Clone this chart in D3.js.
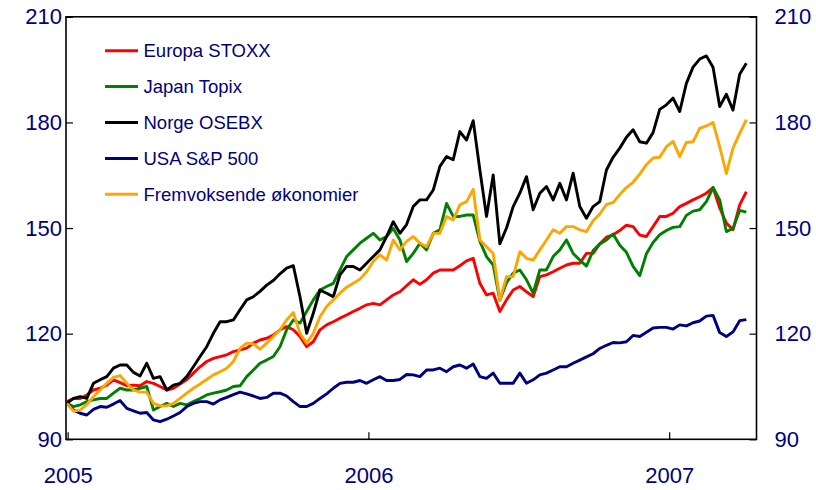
<!DOCTYPE html>
<html>
<head>
<meta charset="utf-8">
<script src="https://cdn.jsdelivr.net/npm/d3@7"></script>
<style>
  body { margin: 0; background: #fff; }
  svg { display: block; font-family: "Liberation Sans", Arial, sans-serif; }
</style>
</head>
<body>
<svg id="chart" width="816" height="490"></svg>
<script>
var firstDate = new Date(2004, 11, 31);
var stepDays = 8.085;

var europa = [
  100.7, 101.6, 101.6, 102.6, 104.0, 104.5, 105.4, 106.9, 106.1, 105.2, 105.4, 105.2, 106.4, 105.9, 105.0, 104.0, 104.5, 105.7, 106.9, 108.8, 110.6, 112.1, 113.0, 113.5, 114.0, 114.9, 115.4,
  115.9, 117.3, 118.2, 118.7, 119.6, 121.1, 122.0, 121.1, 119.2, 116.3, 117.7, 121.1, 122.5, 123.4, 124.4, 125.3, 126.3, 127.2, 128.2, 128.6, 128.2, 129.6, 131.0, 131.9, 133.6,
  135.3, 134.0, 135.3, 137.2, 138.1, 138.1, 138.1, 139.3, 140.7, 141.4, 134.3, 131.0, 131.5, 126.3, 129.6, 132.4, 133.4, 131.9, 130.5, 136.2, 136.7, 137.6, 138.6, 139.5, 140.0, 140.0,
  142.8, 142.8, 145.5, 147.4, 148.1, 149.3, 150.8, 150.4, 148.0, 147.6, 150.4, 153.3, 153.3, 154.2, 156.1, 157.0, 158.0, 158.9, 159.9, 161.5, 155.7, 151.4, 149.5, 156.6, 160.3
];
var japan = [
  100.2, 99.3, 99.8, 100.7, 101.2, 101.6, 101.6, 103.1, 104.5, 104.0, 104.0, 104.5, 105.0, 98.3, 99.3, 100.2, 99.3, 100.2, 99.8, 100.7, 101.6, 102.6, 103.1, 103.5, 104.0, 105.0, 105.2,
  107.8, 109.7, 111.6, 112.5, 113.5, 116.3, 121.1, 123.9, 123.0, 126.3, 129.6, 132.4, 133.4, 134.3, 138.1, 141.9, 143.8, 145.7, 147.1, 148.5, 146.6, 147.6, 149.9, 146.6, 140.5,
  142.8, 145.7, 143.8, 148.5, 149.5, 157.0, 153.3, 153.3, 153.7, 153.7, 146.2, 141.9, 139.5, 129.5, 134.5, 137.2, 138.1, 135.3, 131.5, 138.1, 138.1, 141.9, 143.8, 146.6, 142.8, 140.9,
  139.2, 143.6, 145.5, 146.6, 148.3, 145.1, 143.1, 139.1, 136.5, 142.7, 145.9, 148.1, 149.3, 150.2, 150.4, 153.6, 154.8, 155.2, 157.5, 161.5, 158.0, 149.0, 149.9, 155.0, 154.5
];
var norge = [
  100.2, 101.6, 102.1, 101.6, 105.9, 106.9, 107.8, 110.2, 111.1, 111.1, 109.0, 108.0, 111.6, 107.3, 107.8, 104.0, 105.4, 105.9, 107.8, 110.6, 113.5, 116.3, 120.1, 123.4, 123.4, 123.9, 126.8,
  129.6, 130.5, 132.0, 133.8, 135.1, 137.0, 138.6, 139.3, 130.5, 120.1, 125.8, 132.4, 131.5, 130.5, 136.7, 139.1, 139.1, 138.1, 140.0, 141.9, 143.8, 147.6, 151.8, 148.5, 151.0,
  156.1, 158.0, 158.0, 160.8, 167.5, 170.3, 169.4, 177.4, 175.0, 180.5, 166.5, 153.3, 165.1, 145.5, 150.0, 156.1, 159.9, 164.6, 155.2, 159.9, 161.8, 158.0, 162.7, 158.0, 165.6, 156.1,
  152.8, 156.1, 157.5, 166.5, 170.1, 172.7, 175.8, 177.9, 174.5, 174.1, 177.1, 183.7, 185.0, 186.9, 183.1, 191.1, 195.7, 198.0, 198.9, 195.7, 184.5, 188.0, 183.5, 193.7, 196.8
];
var usa = [
  100.2, 98.3, 97.4, 96.9, 98.5, 99.3, 99.1, 100.0, 101.0, 98.8, 98.1, 97.4, 97.6, 95.5, 95.0, 95.7, 96.6, 97.6, 99.3, 100.2, 100.7, 100.7, 100.0, 101.2, 101.9, 102.7, 103.4,
  102.9, 102.3, 101.6, 101.9, 103.1, 103.1, 102.3, 100.7, 99.3, 99.3, 100.2, 101.6, 102.9, 104.5, 105.9, 106.2, 106.2, 106.7, 105.9, 106.9, 107.8, 106.7, 106.7, 107.0, 108.4,
  108.3, 107.8, 109.7, 109.7, 110.2, 109.2, 110.6, 111.1, 110.2, 111.4, 107.8, 107.3, 108.8, 105.9, 105.9, 105.9, 108.8, 105.9, 106.9, 108.3, 108.8, 109.7, 110.6, 110.6, 111.6, 112.5,
  113.4, 114.3, 115.8, 116.7, 117.5, 117.4, 117.7, 119.5, 119.2, 120.4, 121.6, 121.8, 121.8, 121.3, 122.5, 122.2, 123.1, 123.6, 125.0, 125.2, 120.3, 119.2, 120.5, 123.7, 124.0
];
var fremvoksende = [
  100.2, 98.0, 98.3, 99.9, 102.1, 104.0, 105.9, 107.6, 108.1, 105.9, 104.0, 103.4, 103.4, 100.2, 99.5, 99.5, 100.2, 101.6, 103.1, 104.5, 105.7, 107.0, 108.3, 109.2, 110.2, 112.1, 115.8,
  117.3, 117.1, 115.6, 117.3, 119.2, 121.1, 123.9, 126.0, 120.1, 117.3, 120.1, 124.8, 127.7, 129.6, 131.5, 133.2, 134.3, 135.5, 137.6, 140.5, 142.4, 140.9, 146.6, 143.8, 146.2,
  147.6, 145.7, 144.7, 148.5, 148.5, 153.3, 152.3, 156.6, 157.5, 161.0, 146.6, 144.7, 142.8, 129.5, 136.2, 136.2, 143.3, 141.4, 140.9, 143.8, 146.6, 149.5, 148.5, 150.4, 150.4, 149.5,
  149.0, 152.1, 154.0, 156.7, 157.2, 159.5, 161.5, 163.0, 165.3, 168.0, 169.9, 170.1, 173.1, 174.6, 170.3, 174.3, 174.5, 178.3, 179.0, 180.0, 173.1, 165.5, 172.7, 176.9, 180.8
];

var seriesNames = ["Europa STOXX", "Japan Topix", "Norge OSEBX", "USA S&P 500", "Fremvoksende økonomier"];
var seriesColors = ["#ff0000", "#008000", "#000000", "#000080", "#ffa500"];
var seriesValues = [europa, japan, norge, usa, fremvoksende];

var yTicks = [90, 120, 150, 180, 210];
var xTickYears = [2005, 2006, 2007];

var svg = d3.select("#chart");
var textColor = "#000080";

// plot box
var plotL = 66, plotR = 756.5, plotT = 16.8, plotB = 439.3;

var x = d3.scaleTime()
  .domain([new Date(2004, 11, 30), new Date(2007, 3, 17)])
  .range([plotL, plotR]);
var y = d3.scaleLinear()
  .domain([90, 210])
  .range([plotB, plotT]);

var dates = europa.map(function (d, i) {
  return new Date(+firstDate + i * stepDays * 864e5);
});

// axes, ticks pointing into the plot
function styleAxis(g) {
  g.select(".domain").remove();
  g.selectAll(".tick line").attr("stroke", "#000").attr("stroke-width", 1.2);
  g.selectAll(".tick text")
    .attr("fill", textColor)
    .style("font-size", "22px")
    .style("font-family", '"Liberation Sans", Arial, sans-serif');
}

svg.append("g")
  .attr("transform", "translate(" + plotL + ",0)")
  .call(d3.axisLeft(y).tickValues(yTicks).tickSizeInner(-7).tickSizeOuter(0).tickPadding(4))
  .call(styleAxis);

svg.append("g")
  .attr("transform", "translate(" + plotR + ",0)")
  .call(d3.axisRight(y).tickValues(yTicks).tickSizeInner(-7).tickSizeOuter(0).tickPadding(18))
  .call(styleAxis);

svg.append("g")
  .attr("transform", "translate(0," + plotB + ")")
  .call(d3.axisBottom(x)
    .tickValues(xTickYears.map(function (yr) { return new Date(yr, 0, 1); }))
    .tickFormat(d3.timeFormat("%Y"))
    .tickSizeInner(-7).tickSizeOuter(0).tickPadding(28))
  .call(styleAxis);

// lines
var line = d3.line()
  .x(function (d) { return x(d.date); })
  .y(function (d) { return y(d.value); });

seriesValues.forEach(function (vals, k) {
  var pts = vals.map(function (v, i) { return { date: dates[i], value: v }; });
  svg.append("path")
    .datum(pts)
    .attr("fill", "none")
    .attr("stroke", seriesColors[k])
    .attr("stroke-width", 2.9)
    .attr("stroke-linejoin", "round")
    .attr("d", line);
});

// frame
svg.append("rect")
  .attr("x", plotL).attr("y", plotT)
  .attr("width", plotR - plotL).attr("height", plotB - plotT)
  .attr("fill", "none")
  .attr("stroke", "#000")
  .attr("stroke-width", 1.6);

// legend
var legend = svg.append("g").selectAll("g")
  .data(seriesNames)
  .enter().append("g")
  .attr("transform", function (d, i) { return "translate(105," + (50.7 + i * 35.9) + ")"; });

legend.append("line")
  .attr("x1", 0).attr("x2", 33)
  .attr("stroke", function (d, i) { return seriesColors[i]; })
  .attr("stroke-width", 3);

legend.append("text")
  .attr("x", 38.5)
  .attr("dy", "0.35em")
  .attr("fill", textColor)
  .style("font-size", "18.5px")
  .text(function (d) { return d; });
</script>
</body>
</html>
